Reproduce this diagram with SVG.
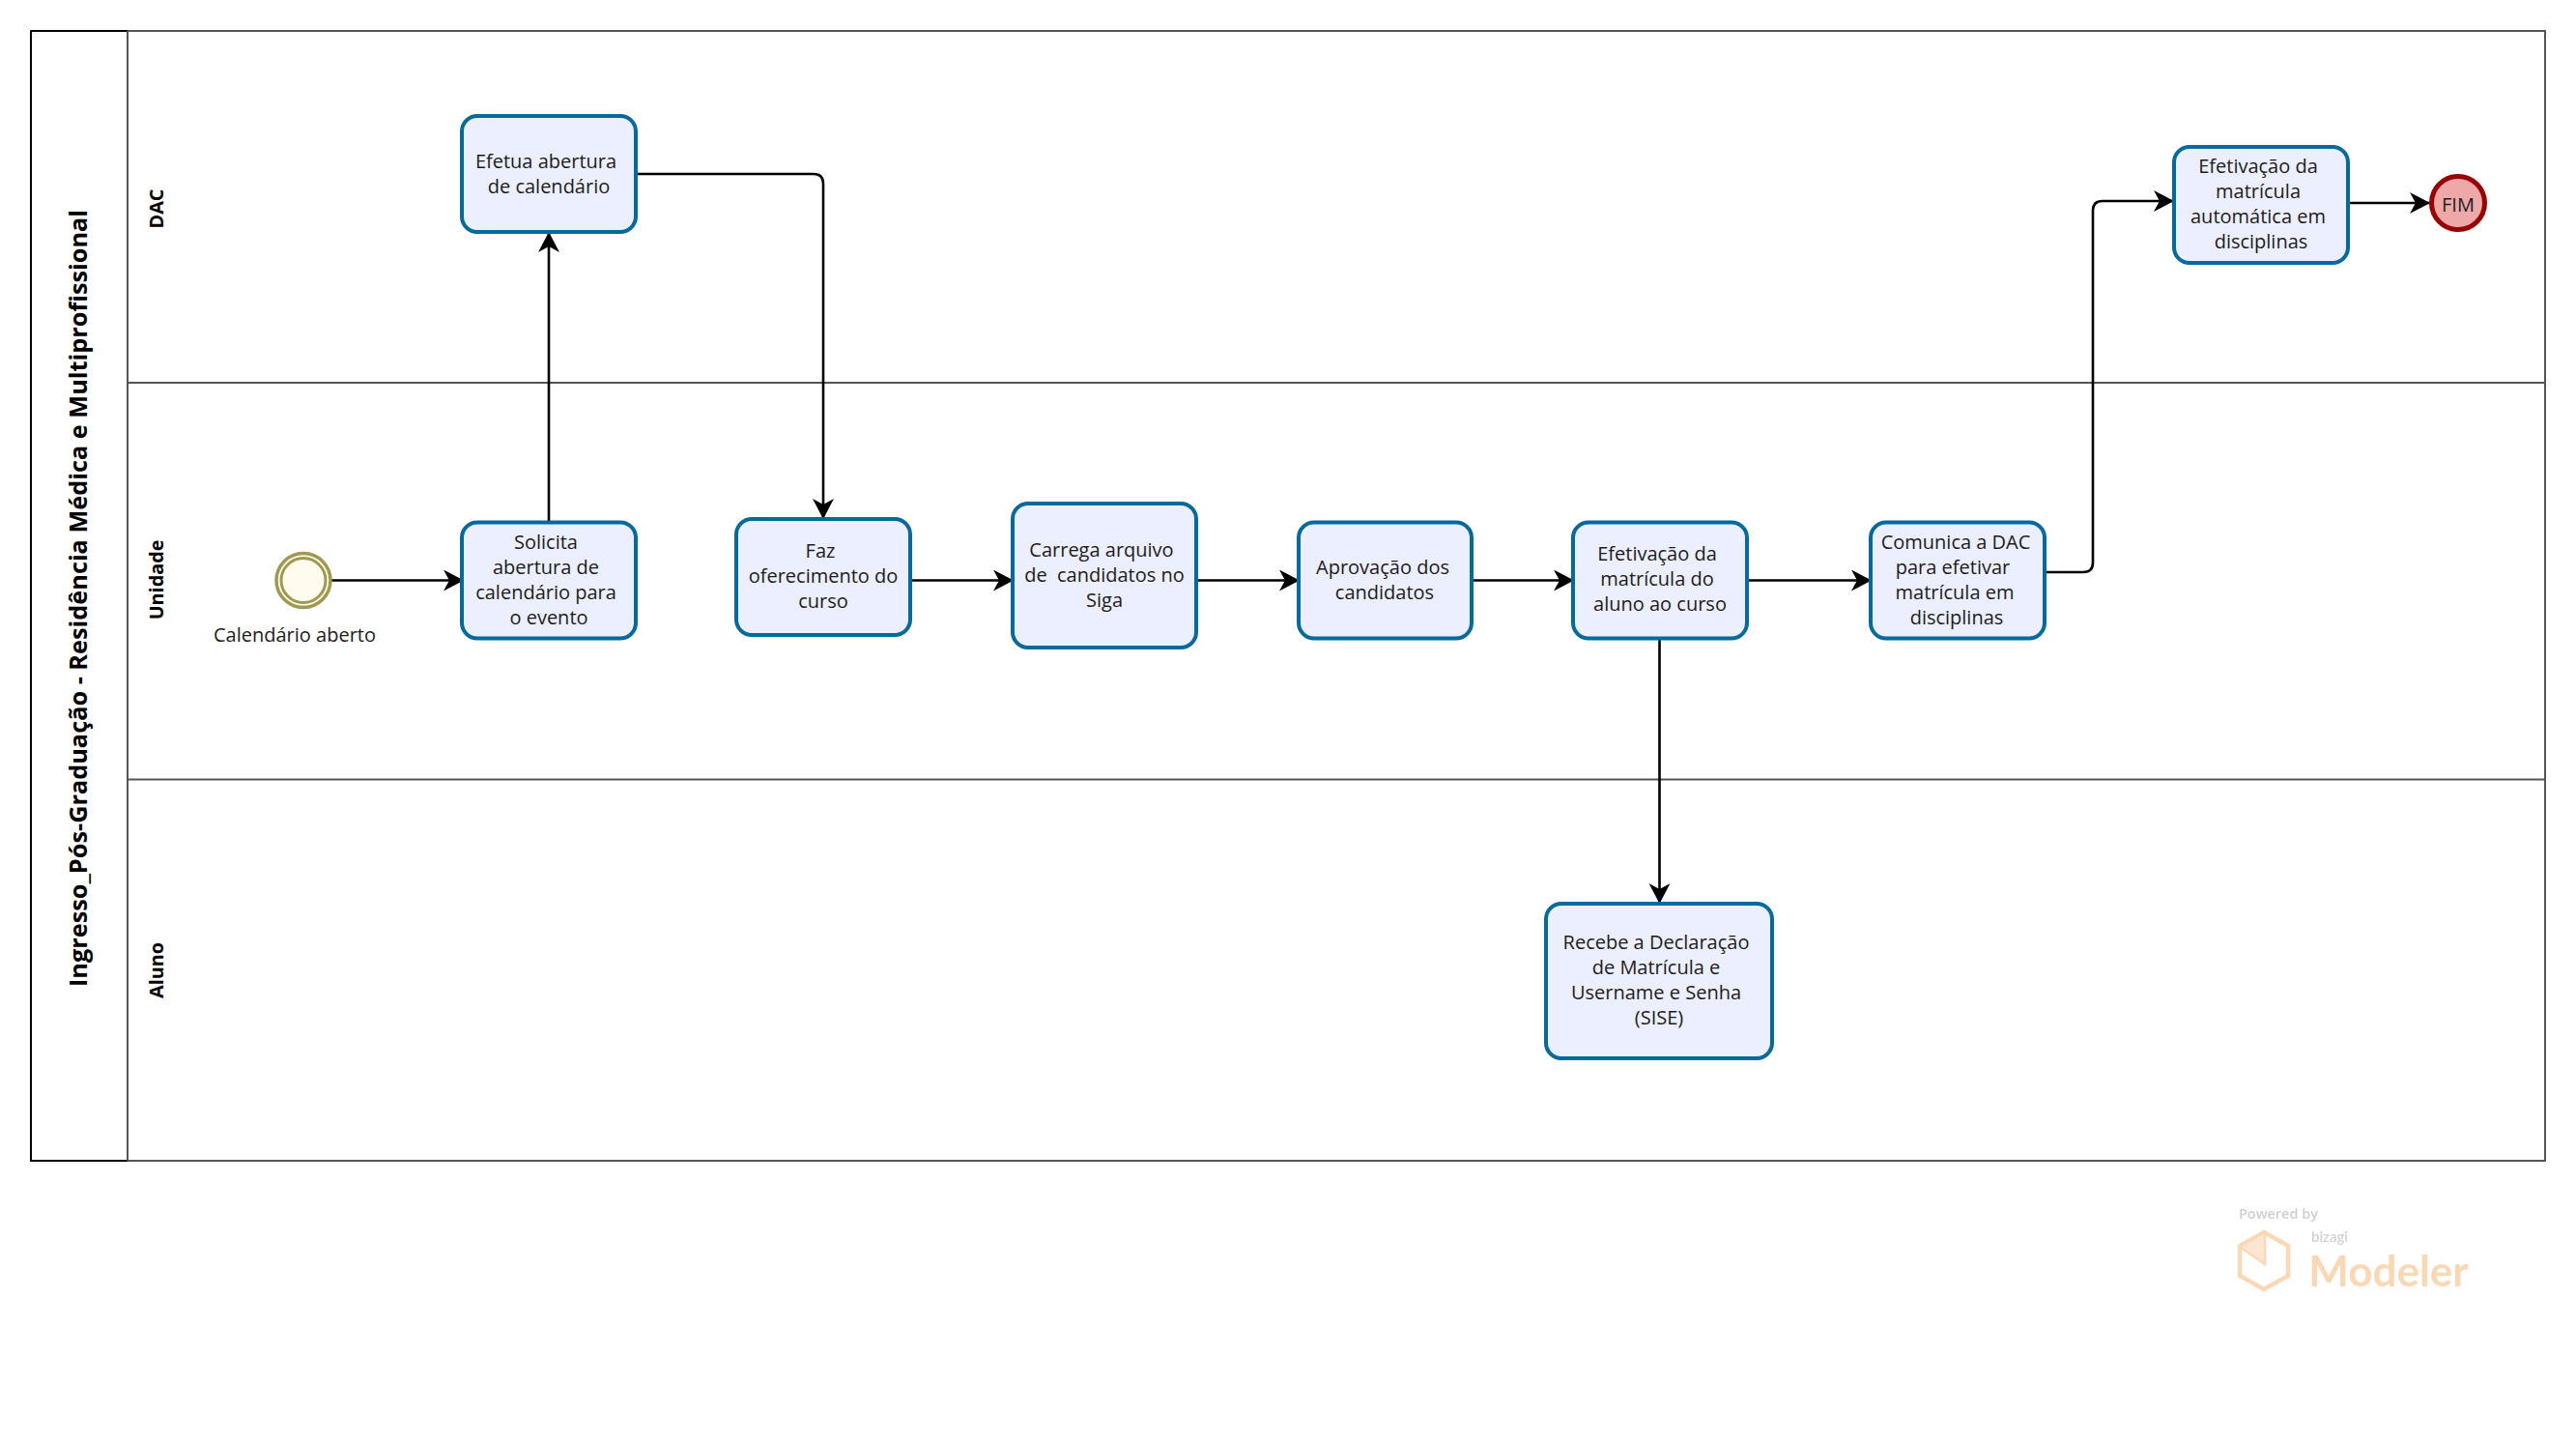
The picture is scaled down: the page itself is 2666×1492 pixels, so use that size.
<svg xmlns="http://www.w3.org/2000/svg" width="2666" height="1492" viewBox="0 0 2666 1492">
<style>
text{font-family:"Open Sans","Noto Sans","DejaVu Sans",sans-serif;fill:#1c1c1c;text-anchor:middle}
.t{font-size:20px}
.task{fill:#ECEFFF;stroke:#036A9D;stroke-width:4}
.lane{fill:none;stroke:#555;stroke-width:2}
.c{fill:none;stroke:#000;stroke-width:2.6;marker-end:url(#a)}
.h{font-weight:700;fill:#000}
</style>
<defs>
<marker id="a" markerUnits="userSpaceOnUse" markerWidth="24" markerHeight="24" refX="21" refY="11" orient="auto"><path d="M0 0L21 11L0 22L6 11Z" fill="#000"/></marker>
<filter id="b"><feGaussianBlur stdDeviation="0.6"/></filter>
</defs>
<rect width="2666" height="1492" fill="#fff"/>
<g id="pool">
<rect x="32" y="32" width="2602" height="1169" class="lane"/>
<path d="M32 32H132M32 32V1201H132" fill="none" stroke="#000" stroke-width="2"/>
<path d="M132 32V1201M132 396H2634M132 806.500H2634" class="lane"/>
<text class="h" font-size="25.300" transform="translate(90 619) rotate(-90)">Ingresso_Pós-Graduação - Residência Médica e Multiprofissional</text>
</g>
<g id="lane-dac"><text class="h" font-size="19.800" transform="translate(169 216) rotate(-90)">DAC</text></g>
<g id="lane-unidade"><text class="h" font-size="19.800" transform="translate(169 600) rotate(-90)">Unidade</text></g>
<g id="lane-aluno"><text class="h" font-size="19.800" transform="translate(169 1004) rotate(-90)">Aluno</text></g>
<g id="connectors">
<path class="c" d="M343 600.500H480"/>
<path class="c" d="M568 540V240"/>
<path class="c" d="M658 180H842Q852 180 852 190V537"/>
<path class="c" d="M942 600.500H1049"/>
<path class="c" d="M1238 600.500H1345"/>
<path class="c" d="M1523 600.500H1629"/>
<path class="c" d="M1808 600.500H1937"/>
<path class="c" d="M1717.500 660V935"/>
<path class="c" d="M2116 592H2156Q2166 592 2166 582V218Q2166 208 2176 208H2250"/>
<path class="c" d="M2430 210H2515"/>
</g>
<g id="start"><circle cx="314" cy="600.500" r="28" fill="#FFFBEF" stroke="#A09A50" stroke-width="3.500"/><circle cx="314" cy="600.500" r="23" fill="none" stroke="#A09A50" stroke-width="3"/><text class="t" x="305" y="664">Calendário aberto</text></g>
<g id="efetua"><rect class="task" x="478" y="120" width="180" height="120" rx="16"/><text class="t" x="565" y="174">Efetua abertura</text><text class="t" x="568" y="200">de calendário</text></g>
<g id="solicita"><rect class="task" x="478" y="540.500" width="180" height="120" rx="16"/><text class="t" x="565" y="568">Solicita</text><text class="t" x="565" y="594">abertura de</text><text class="t" x="565" y="620">calendário para</text><text class="t" x="568" y="646">o evento</text></g>
<g id="faz"><rect class="task" x="762" y="537" width="180" height="120" rx="16"/><text class="t" x="849" y="577">Faz</text><text class="t" x="852" y="603">oferecimento do</text><text class="t" x="852" y="629">curso</text></g>
<g id="carrega"><rect class="task" x="1048" y="521" width="190" height="149" rx="16"/><text class="t" x="1140" y="576">Carrega arquivo</text><text class="t" x="1143" y="602" xml:space="preserve">de  candidatos no</text><text class="t" x="1143" y="628">Siga</text></g>
<g id="aprovacao"><rect class="task" x="1344" y="540.500" width="179" height="120" rx="16"/><text class="t" x="1431" y="594">Aprovação dos</text><text class="t" x="1433" y="620">candidatos</text></g>
<g id="efetivacao-aluno"><rect class="task" x="1628" y="540.500" width="180" height="120" rx="16"/><text class="t" x="1715" y="580">Efetivação da</text><text class="t" x="1715" y="606">matrícula do</text><text class="t" x="1718" y="632">aluno ao curso</text></g>
<g id="comunica"><rect class="task" x="1936" y="540.500" width="180" height="120" rx="16"/><text class="t" x="2024" y="568">Comunica a DAC</text><text class="t" x="2021" y="594">para efetivar</text><text class="t" x="2023" y="620">matrícula em</text><text class="t" x="2025" y="646">disciplinas</text></g>
<g id="recebe"><rect class="task" x="1600" y="935" width="234" height="160" rx="16"/><text class="t" x="1714" y="982">Recebe a Declaração</text><text class="t" x="1714" y="1008">de Matrícula e</text><text class="t" x="1714" y="1034">Username e Senha</text><text class="t" x="1717" y="1060">(SISE)</text></g>
<g id="efetivacao-matricula"><rect class="task" x="2250" y="152" width="180" height="120" rx="16"/><text class="t" x="2337" y="179">Efetivação da</text><text class="t" x="2337" y="205">matrícula</text><text class="t" x="2337" y="231">automática em</text><text class="t" x="2340" y="257">disciplinas</text></g>
<g id="fim"><circle cx="2544" cy="210" r="27.500" fill="#EFA8A8" stroke="#990000" stroke-width="5"/><text class="t" x="2544" y="219">FIM</text></g>
<g id="watermark" filter="url(#b)">
<text x="2358" y="1261" font-size="14.500" font-weight="600" style="fill:#cfcfcf">Powered by</text>
<path d="M2343 1275L2368 1289V1320L2343 1334L2318 1320V1289Z M2343 1275V1306L2318 1289" fill="none" stroke="#FAD8B4" stroke-width="4.500"/>
<path d="M2343 1277V1306L2320 1290Z" fill="#FCE6D2"/>
<text x="2411" y="1285" font-size="15" font-weight="600" style="fill:#d2d2d2;font-family:Lato,sans-serif">bizagi</text>
<text x="2472" y="1331" font-size="44" font-weight="700" style="fill:#FAD8B4;font-family:Lato,sans-serif">Modeler</text>
</g>
</svg>
